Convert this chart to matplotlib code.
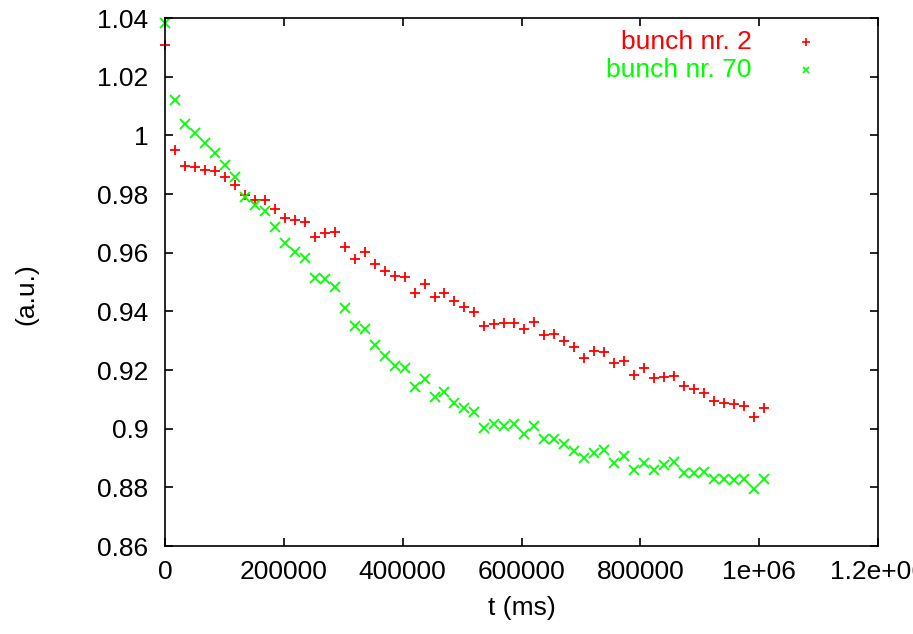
import matplotlib
matplotlib.use("Agg")
import matplotlib.pyplot as plt

# sample times (ms)
t_ms = [0, 16800, 33600, 50400, 67200, 84000, 100800, 117600, 134400, 151200,
        168000, 184800, 201600, 218400, 235200, 252000, 268800, 285600, 302400, 319200,
        336000, 352800, 369600, 386400, 403200, 420000, 436800, 453600, 470400, 487200,
        504000, 520800, 537600, 554400, 571200, 588000, 604800, 621600, 638400, 655200,
        672000, 688800, 705600, 722400, 739200, 756000, 772800, 789600, 806400, 823200,
        840000, 856800, 873600, 890400, 907200, 924000, 940800, 957600, 974400, 991200,
        1008000]

bunch2 = [1.0308, 0.9950, 0.9897, 0.9893, 0.9882, 0.9878, 0.9857, 0.9831, 0.9796, 0.9780,
          0.9780, 0.9748, 0.9717, 0.9711, 0.9704, 0.9652, 0.9666, 0.9672, 0.9618, 0.9578,
          0.9601, 0.9561, 0.9538, 0.9520, 0.9518, 0.9464, 0.9492, 0.9450, 0.9461, 0.9435,
          0.9416, 0.9399, 0.9350, 0.9357, 0.9361, 0.9359, 0.9340, 0.9365, 0.9319, 0.9322,
          0.9299, 0.9277, 0.9242, 0.9266, 0.9262, 0.9223, 0.9231, 0.9183, 0.9206, 0.9172,
          0.9175, 0.9180, 0.9145, 0.9135, 0.9121, 0.9095, 0.9087, 0.9084, 0.9078, 0.9041,
          0.9072]

bunch70 = [1.0384, 1.0120, 1.0040, 1.0007, 0.9974, 0.9939, 0.9900, 0.9859, 0.9791, 0.9762,
           0.9743, 0.9686, 0.9634, 0.9603, 0.9581, 0.9515, 0.9509, 0.9484, 0.9412, 0.9351,
           0.9339, 0.9285, 0.9248, 0.9214, 0.9206, 0.9143, 0.9168, 0.9109, 0.9124, 0.9089,
           0.9072, 0.9058, 0.9001, 0.9015, 0.9010, 0.9015, 0.8982, 0.9010, 0.8966, 0.8966,
           0.8947, 0.8925, 0.8899, 0.8918, 0.8927, 0.8884, 0.8908, 0.8859, 0.8884, 0.8859,
           0.8876, 0.8887, 0.8848, 0.8848, 0.8853, 0.8830, 0.8828, 0.8826, 0.8827, 0.8793,
           0.8830]

x_ticks = [0, 200000, 400000, 600000, 800000, 1000000, 1200000]
x_tick_labels = ["0", "200000", "400000", "600000", "800000", "1e+06", "1.2e+06"]
y_ticks = [0.86, 0.88, 0.90, 0.92, 0.94, 0.96, 0.98, 1.00, 1.02, 1.04]
y_tick_labels = ["0.86", "0.88", "0.9", "0.92", "0.94", "0.96", "0.98", "1", "1.02", "1.04"]

plt.rcParams["font.family"] = ["Liberation Sans", "DejaVu Sans"]
FS = 19

fig = plt.figure(figsize=(9.13, 6.34), dpi=100)
ax = fig.add_axes([0.1807, 0.1388, 0.781, 0.8328])

ax.plot(t_ms, bunch2, linestyle="none", marker="+", color="#ff0000",
        markersize=7, markeredgewidth=1.3, clip_on=False)
ax.plot(t_ms, bunch70, linestyle="none", marker="x", color="#00ff00",
        markersize=6.5, markeredgewidth=1.3, clip_on=False)

ax.set_xlim(0, 1200000)
ax.set_ylim(0.86, 1.04)
ax.set_xticks(x_ticks)
ax.set_xticklabels(x_tick_labels)
ax.set_yticks(y_ticks)
ax.set_yticklabels(y_tick_labels)
ax.tick_params(direction="in", length=6, width=1.2, top=True, right=True,
               labelsize=FS, colors="black")
ax.tick_params(axis="y", pad=12)
ax.tick_params(axis="x", pad=10)
for s in ax.spines.values():
    s.set_linewidth(1.2)

ax.set_xlabel("t (ms)", fontsize=FS, labelpad=9)
ax.set_ylabel("(a.u.)", fontsize=FS)
ax.yaxis.set_label_coords(-0.178, 0.477)

# legend, gnuplot style: right-aligned text, marker on the right
ax.text(0.823, 0.9545, "bunch nr. 2", color="#ff0000", fontsize=FS,
        ha="right", va="center", transform=ax.transAxes)
ax.text(0.823, 0.9015, "bunch nr. 70", color="#00ff00", fontsize=FS,
        ha="right", va="center", transform=ax.transAxes)
ax.plot([0.899], [0.9545], marker="+", color="#ff0000", markersize=6,
        markeredgewidth=1.2, transform=ax.transAxes)
ax.plot([0.899], [0.9015], marker="x", color="#00ff00", markersize=5,
        markeredgewidth=1.2, transform=ax.transAxes)

fig.savefig("out.png", dpi=100)
